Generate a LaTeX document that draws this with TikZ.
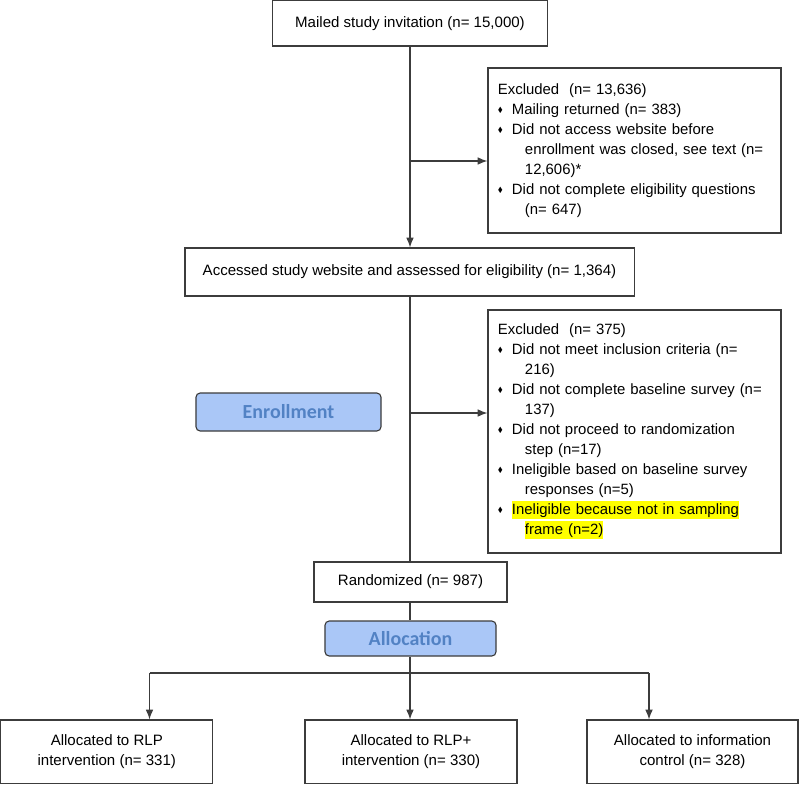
\documentclass[tikz,border=0pt]{standalone}
\usepackage{amssymb}
\usepackage{fontspec}
\setmainfont{Liberation Sans}
\newfontfamily\stagefont{Carlito}
\usetikzlibrary{arrows.meta}

\definecolor{boxgray}{RGB}{60,60,60}
\definecolor{stagefill}{RGB}{170,199,247}
\definecolor{stagetext}{RGB}{82,130,196}
\definecolor{hlyellow}{RGB}{255,255,0}

\newcommand{\itm}{\makebox[0.35cm][l]{\raisebox{0.25ex}{\scalebox{0.5}{$\blacklozenge$}}}}
\newcommand{\cont}{\hspace*{0.675cm}}
\newcommand{\hlt}[1]{{\setlength{\fboxsep}{0pt}\colorbox{hlyellow}{\rule[-0.28em]{0pt}{1.2em}#1}}}

\tikzset{
  box/.style={draw=boxgray, line width=0.8pt, fill=white, align=center, inner sep=0pt,
    font=\fontsize{10.7}{14.2}\selectfont},
  exclbox/.style={box, align=left, text width=6.825cm, inner xsep=0.25cm, minimum width=7.325cm,
    font=\fontsize{10.6}{14.2}\selectfont},
  stage/.style={draw=boxgray, line width=0.8pt, fill=stagefill, rounded corners=3pt,
    text=stagetext, inner sep=0pt, font=\stagefont\bfseries\fontsize{14.2}{16}\selectfont},
  flow/.style={draw=boxgray, line width=0.8pt},
  arr/.style={flow, -{Latex[length=7pt,width=5.5pt]}}
}

\begin{document}
\begin{tikzpicture}[x=0.025cm,y=-0.025cm]
\useasboundingbox (0,0) rectangle (800,784);

% main column
\node[box, minimum width=6.875cm, minimum height=1.1375cm] (mail) at (410,23.25)
  {Mailed study invitation (n= 15,000)};
\node[box, minimum width=11.225cm, minimum height=1.2cm] (access) at (409.5,272)
  {Accessed study website and assessed for eligibility (n= 1,364)};
\node[box, minimum width=4.825cm, minimum height=1cm] (rand) at (410.5,582)
  {Randomized (n= 987)};

% exclusions
\node[exclbox, minimum height=4.125cm] (excl1) at (634.5,150.5)
  {Excluded\ \ (n= 13,636)\\
   \itm Mailing returned (n= 383)\\
   \itm Did not access website before\\
   \cont enrollment was closed, see text (n=\\
   \cont 12,606)*\\
   \itm Did not complete eligibility questions\\
   \cont (n= 647)};
\node[exclbox, minimum height=6.075cm] (excl2) at (634.5,431.5)
  {Excluded\ \ (n= 375)\\
   \itm Did not meet inclusion criteria (n=\\
   \cont 216)\\
   \itm Did not complete baseline survey (n=\\
   \cont 137)\\
   \itm Did not proceed to randomization\\
   \cont step (n=17)\\
   \itm Ineligible based on baseline survey\\
   \cont responses (n=5)\\
   \itm \hlt{Ineligible because not in sampling}\\
   \cont \hlt{frame (n=2)}};

% stage labels
\node[stage, minimum width=4.625cm, minimum height=0.95cm] (enroll) at (288.5,412) {Enrollment};
\node[stage, minimum width=4.275cm, minimum height=0.875cm] (alloc) at (410.5,638.5) {Allocation};

% arms
\node[box, minimum width=5.3cm, minimum height=1.5875cm] (rlp) at (106.8,751.75)
  {Allocated to RLP\\intervention (n= 331)};
\node[box, minimum width=5.3cm, minimum height=1.5875cm] (rlpplus) at (411,751.75)
  {Allocated to RLP+\\intervention (n= 330)};
\node[box, minimum width=5.275cm, minimum height=1.5875cm] (info) at (692.5,751.75)
  {Allocated to information\\control (n= 328)};

% connectors
\coordinate (b1) at (410,161);
\coordinate (b2) at (410,413);
\coordinate (s1) at (149.5,673);
\coordinate (s2) at (410,673);
\coordinate (s3) at (649,673);

\draw[arr] (mail.south -| b1) -- (access.north -| b1);
\draw[arr] (b1) -- (b1 -| excl1.west);
\draw[flow] (access.south -| b2) -- (rand.north -| b2);
\draw[arr] (b2) -- (b2 -| excl2.west);
\draw[flow] (rand.south -| s2) -- (alloc.north -| s2);
\draw[flow] (alloc.south -| s2) -- (s2);
\draw[flow] (s1) -- (s3);
\draw[arr] (s1) -- (s1 |- rlp.north);
\draw[arr] (s2) -- (s2 |- rlpplus.north);
\draw[arr] (s3) -- (s3 |- info.north);
\end{tikzpicture}
\end{document}
